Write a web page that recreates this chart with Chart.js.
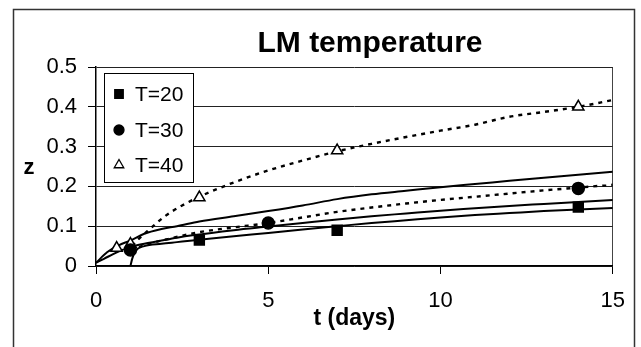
<!DOCTYPE html>
<html>
<head>
<meta charset="utf-8">
<script src="https://cdn.jsdelivr.net/npm/chart.js@4.4.0/dist/chart.umd.min.js"></script>
<style>
  body { margin: 0; background: #fff; }
</style>
</head>
<body>
<canvas id="myChart" width="641" height="347"></canvas>
<script>
// axis ticks
var xTicks = [0, 5, 10, 15];
var yTicks = [0, 0.1, 0.2, 0.3, 0.4, 0.5];

// measured points
var seriesNames = ["T=20", "T=30", "T=40"];
var t20 = [3, 7, 14];
var z20 = [0.065, 0.09, 0.148];
var t30 = [1, 5, 14];
var z30 = [0.04, 0.108, 0.195];
var t40 = [0.6, 1, 3, 7, 14];
var z40 = [0.045, 0.055, 0.172, 0.29, 0.40];

// model curves (solid)
var fitTopT = [0, 0.33, 0.66, 1, 1.4, 1.9, 2.35, 3, 4, 5, 6, 7, 8, 9, 10, 11, 12, 13, 14, 15];
var fitTopZ = [0.008, 0.035, 0.052, 0.064, 0.081, 0.093, 0.1, 0.112, 0.125, 0.138, 0.152, 0.168, 0.18, 0.189, 0.198, 0.206, 0.214, 0.222, 0.229, 0.237];
var fitMidT = [0, 0.23, 0.62, 1, 1.4, 1.9, 2.35, 2.8, 4, 5, 6, 7, 8, 9, 10, 11, 12, 13, 14, 15];
var fitMidZ = [0.008, 0.018, 0.035, 0.048, 0.056, 0.064, 0.071, 0.077, 0.09, 0.099, 0.108, 0.117, 0.125, 0.132, 0.139, 0.145, 0.151, 0.156, 0.161, 0.166];
var fitLowT = [1, 1.05, 1.15, 1.4, 1.9, 2.35, 2.8, 4, 5, 6, 7, 8, 9, 10, 11, 12, 13, 14, 15];
var fitLowZ = [0, 0.018, 0.038, 0.05, 0.056, 0.06, 0.064, 0.075, 0.083, 0.092, 0.1, 0.108, 0.115, 0.122, 0.128, 0.133, 0.138, 0.142, 0.146];

// model curves (dotted)
var fit30T = [1, 1.5, 2, 3, 4, 5, 6, 7, 8, 9, 10, 11, 12, 13, 14, 15];
var fit30Z = [0.04, 0.055, 0.066, 0.085, 0.097, 0.108, 0.122, 0.136, 0.147, 0.157, 0.166, 0.174, 0.182, 0.19, 0.197, 0.204];
var fit40T = [1.05, 1.2, 1.5, 2, 2.5, 3, 4, 5, 6, 7, 8, 9, 10, 11, 12, 13, 14, 15];
var fit40Z = [0.05, 0.065, 0.088, 0.125, 0.152, 0.174, 0.21, 0.24, 0.265, 0.288, 0.307, 0.324, 0.34, 0.355, 0.375, 0.387, 0.40, 0.417];

function pts(xs, ys) {
    return xs.map(function (x, i) { return { x: x, y: ys[i] }; });
}

var markerStyles = [
    { pointStyle: 'rect', radius: 7, bg: '#000' },
    { pointStyle: 'circle', radius: 6, bg: '#000' },
    { pointStyle: 'triangle', radius: 6.5, bg: '#fff' }
];

function markerSet(i, xs, ys) {
    var m = markerStyles[i];
    return {
        label: seriesNames[i],
        data: pts(xs, ys),
        showLine: false,
        pointStyle: m.pointStyle,
        pointRadius: m.radius,
        pointBackgroundColor: m.bg,
        pointBorderColor: '#000',
        pointBorderWidth: 1.5,
        order: 0
    };
}

function curveSet(xs, ys, dashed) {
    return {
        label: '',
        data: pts(xs, ys),
        showLine: true,
        pointRadius: 0,
        borderColor: '#000',
        borderWidth: dashed ? 2.4 : 2,
        borderDash: dashed ? [4, 5] : [],
        cubicInterpolationMode: 'monotone',
        order: 1
    };
}

var fontFamily = '"Liberation Sans", Arial, Helvetica, sans-serif';

var framePlugin = {
    id: 'framePlugin',
    beforeDraw: function (chart) {
        var c = chart.ctx;
        c.save();
        c.fillStyle = '#fff';
        c.fillRect(0, 0, chart.width, chart.height);
        c.strokeStyle = '#333';
        c.lineWidth = 1.5;
        c.strokeRect(13.5, 9.5, 621, 360);
        c.restore();
    },
    afterDraw: function (chart) {
        var c = chart.ctx;
        c.save();
        c.fillStyle = '#000';
        c.font = 'bold 30px ' + fontFamily;
        c.textAlign = 'center';
        c.textBaseline = 'alphabetic';
        c.fillText('LM temperature', 370, 52);

        c.font = 'bold 22px ' + fontFamily;
        c.textBaseline = 'middle';
        c.fillText('z', 29, 168);

        // legend box
        c.fillStyle = '#fff';
        c.fillRect(104, 73, 89, 109);
        c.strokeStyle = '#000';
        c.lineWidth = 1;
        c.strokeRect(104.5, 73.5, 89, 109);
        var rows = [94, 130, 165];
        c.font = '21px ' + fontFamily;
        c.textAlign = 'left';
        for (var i = 0; i < seriesNames.length; i++) {
            var m = markerStyles[i];
            c.fillStyle = m.bg;
            c.strokeStyle = '#000';
            c.lineWidth = 1.3;
            Chart.helpers.drawPoint(c, { pointStyle: m.pointStyle, rotation: 0, radius: m.radius - 1, borderWidth: 1.3 }, 119, rows[i]);
            c.fillStyle = '#000';
            c.fillText(seriesNames[i], 135, rows[i] + 1);
        }
        c.restore();
    }
};

var ctx = document.getElementById("myChart");
var myChart = new Chart(ctx, {
    type: 'scatter',
    data: {
        datasets: [
            markerSet(0, t20, z20),
            markerSet(1, t30, z30),
            markerSet(2, t40, z40),
            curveSet(fitTopT, fitTopZ, false),
            curveSet(fitMidT, fitMidZ, false),
            curveSet(fitLowT, fitLowZ, false),
            curveSet(fit30T, fit30Z, true),
            curveSet(fit40T, fit40Z, true)
        ]
    },
    options: {
        responsive: false,
        devicePixelRatio: 1,
        animation: false,
        layout: {
            padding: { left: 46, right: 27, top: 67, bottom: 17 }
        },
        plugins: {
            legend: { display: false },
            title: { display: false },
            tooltip: { enabled: false }
        },
        scales: {
            x: {
                type: 'linear',
                min: xTicks[0],
                max: xTicks[xTicks.length - 1],
                afterFit: function (s) { s.height = 64; },
                ticks: {
                    stepSize: xTicks[1] - xTicks[0],
                    color: '#000',
                    padding: 16,
                    maxRotation: 0,
                    font: { family: fontFamily, size: 22, lineHeight: 1 }
                },
                grid: {
                    color: function (c) {
                        return c.tick && c.tick.value === xTicks[xTicks.length - 1] ? '#444' : 'rgba(0,0,0,0)';
                    },
                    tickColor: '#000',
                    tickLength: 8
                },
                border: { color: '#000', width: 1.5 },
                title: {
                    display: true,
                    text: 't (days)',
                    color: '#000',
                    padding: { top: 0, bottom: 0 },
                    font: { family: fontFamily, size: 23, weight: 'bold', lineHeight: 1 }
                }
            },
            y: {
                min: yTicks[0],
                max: yTicks[yTicks.length - 1],
                afterFit: function (s) { s.width = 50; },
                ticks: {
                    stepSize: yTicks[1] - yTicks[0],
                    color: '#000',
                    padding: 11,
                    font: { family: fontFamily, size: 22, lineHeight: 1 }
                },
                grid: {
                    color: '#222',
                    lineWidth: 1,
                    tickColor: '#000',
                    tickLength: 8
                },
                border: { color: '#000', width: 1.5 }
            }
        }
    },
    plugins: [framePlugin]
});
</script>
</body>
</html>
